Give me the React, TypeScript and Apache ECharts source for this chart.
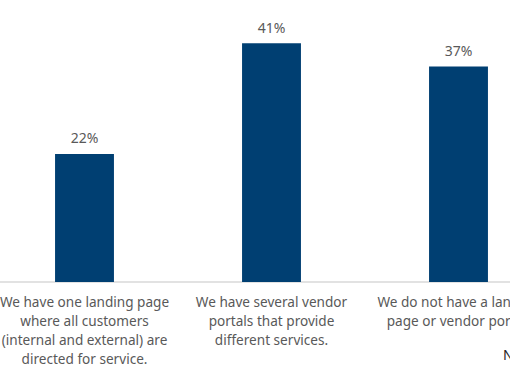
import React, { useEffect, useRef } from "react";
import * as echarts from "echarts";

const categories = [
  "We have one landing page\nwhere all customers\n(internal and external) are\ndirected for service.",
  "We have several vendor\nportals that provide\ndifferent services.",
  "We do not have a landing\npage or vendor portal.",
];
const values = [22, 41, 37];
const footnote = "N";

export default function App() {
  const ref = useRef<HTMLDivElement>(null);
  useEffect(() => {
    document.body.style.margin = "0";
    const chart = echarts.init(ref.current!, null, { renderer: "svg" });
    const font = "Noto Sans";
    chart.setOption({
      animation: false,
      grid: { left: 0, right: 0, top: 20, bottom: 100, containLabel: false },
      xAxis: {
        type: "category",
        data: categories,
        axisLine: { lineStyle: { color: "#d9d9d9", width: 1.5 } },
        axisTick: { show: false },
        axisLabel: {
          interval: 0,
          margin: 10,
          color: "#595959",
          fontFamily: font,
          fontSize: 13.6,
          lineHeight: 19,
        },
      },
      yAxis: {
        type: "value",
        min: 0,
        max: 45,
        show: false,
        splitLine: { show: false },
      },
      series: [
        {
          type: "bar",
          data: values,
          barWidth: "31.5%",
          itemStyle: { color: "#003f72" },
          label: {
            show: true,
            position: "top",
            distance: 9,
            formatter: "{c}%",
            color: "#595959",
            fontFamily: font,
            fontSize: 14,
          },
        },
      ],
      graphic: [
        {
          type: "text",
          left: 512,
          top: 347,
          style: { text: footnote, fill: "#262626", font: `14px ${font}` },
        },
      ],
    });
    return () => chart.dispose();
  }, []);
  return (
    <div style={{ position: "relative", width: 510, height: 382, overflow: "hidden" }}>
      <div ref={ref} style={{ position: "absolute", left: -9, top: 0, width: 561, height: 382 }} />
    </div>
  );
}
